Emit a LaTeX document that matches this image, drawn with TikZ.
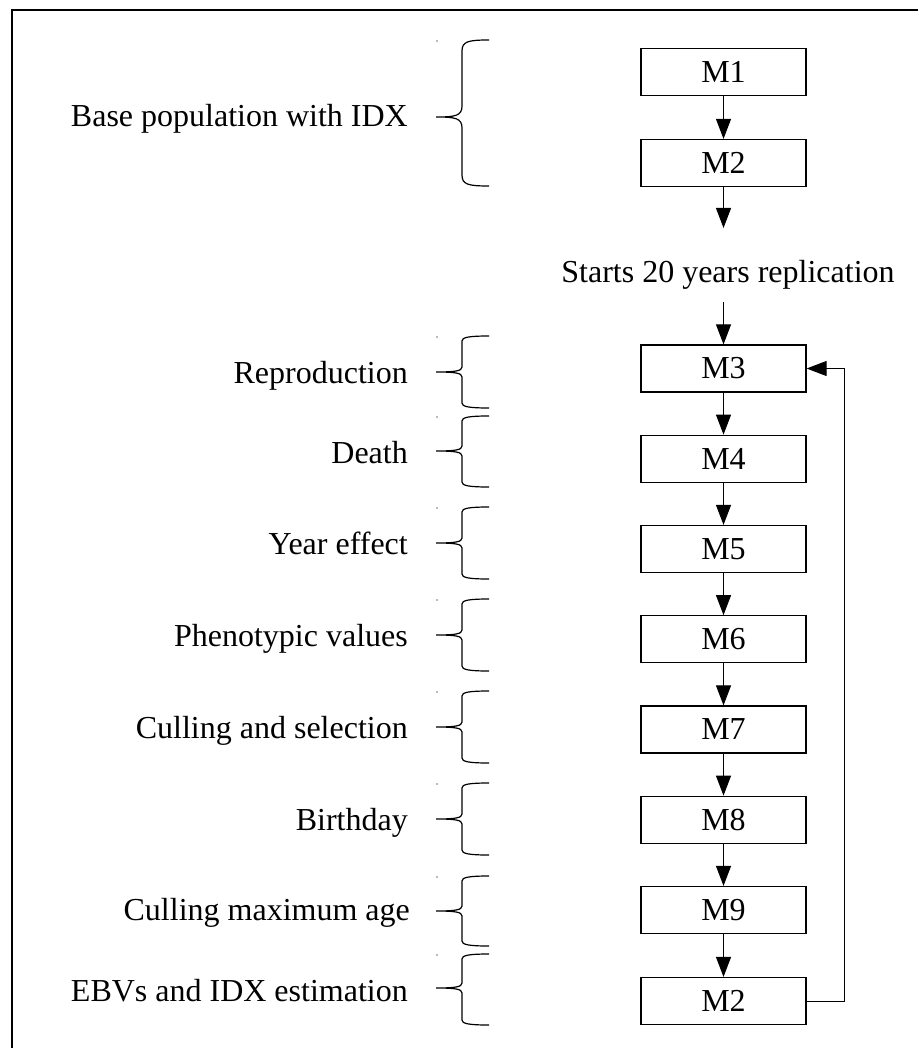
\documentclass[tikz,border=0pt]{standalone}
\usepackage{fontspec}
\setmainfont{Liberation Serif}
\usetikzlibrary{arrows.meta}
\begin{document}
\begin{tikzpicture}[x=1pt,y=-1pt,
  font=\fontsize{32}{38}\selectfont,
  box/.style={draw, line width=1.2pt, minimum width=165pt, minimum height=47pt, inner sep=0pt},
  arr/.style={line width=1pt, -{Triangle[length=20pt,width=15pt]}},
  lbl/.style={anchor=base east, inner sep=0pt},
  bracestyle/.style={line width=1.2pt},
  framestyle/.style={line width=2pt},
  speck/.style={fill=black!55, draw=none}]
\useasboundingbox (0,0) rectangle (918,1048);
% frame (top and left edges)
\draw[framestyle] (12,1048) -- (12,10) -- (918,10);
% boxes
\node[box] (m1) at (723.5,72) {M1};
\node[box] (m2) at (723.5,163) {M2};
\coordinate (s1) at (723.5,228);
\node[anchor=base, inner sep=0pt] (start) at (728,283) {Starts 20 years replication};
\coordinate (s2) at (723.5,302);
\node[box] (m3) at (723.5,368.5) {M3};
\node[box] (m4) at (723.5,458.75) {M4};
\node[box] (m5) at (723.5,549) {M5};
\node[box] (m6) at (723.5,639.25) {M6};
\node[box] (m7) at (723.5,729.5) {M7};
\node[box] (m8) at (723.5,819.75) {M8};
\node[box] (m9) at (723.5,910) {M9};
\node[box] (m2b) at (723.5,1001) {M2};
% connectors
\draw[arr] (m1) -- (m2);
\draw[arr] (m2) -- (s1);
\draw[arr] (s2) -- (m3);
\foreach \a/\b in {m3/m4,m4/m5,m5/m6,m6/m7,m7/m8,m8/m9,m9/m2b}
  \draw[arr] (\a) -- (\b);
\draw[arr] (m2b.east) -- ++(38,0) |- (m3.east);
% braces
\foreach \t/\m/\b/\c in {40/117/186/11, 336/372/408/5, 416/451/487/5, 507/543/579/5, 599/635/671/5, 691/727/763/5, 783/819/855/5, 876/911/946/5, 954/988/1025/5}{
  \draw[bracestyle] (489,\t) .. controls (468,\t) and (462,\t+1.5) .. (462,\t+\c)
     -- (462,\m-\c) .. controls (462,\m-1) and (455,\m) .. (436,\m)
     .. controls (455,\m) and (462,\m+1) .. (462,\m+\c)
     -- (462,\b-\c) .. controls (462,\b-1.5) and (468,\b) .. (489,\b);
  \fill[speck] (437,\t+1) circle (0.8);
}
% labels
\node[lbl] (l1) at (408,127) {Base population with IDX};
\node[lbl] (l2) at (408,383) {Reproduction};
\node[lbl] (l3) at (408,463) {Death};
\node[lbl] (l4) at (408,554.5) {Year effect};
\node[lbl] (l5) at (408,646.5) {Phenotypic values};
\node[lbl] (l6) at (408,738.5) {Culling and selection};
\node[lbl] (l7) at (408,830.5) {Birthday};
\node[lbl] (l8) at (410,920) {Culling maximum age};
\node[lbl] (l9) at (408,1001) {EBVs and IDX estimation};
\end{tikzpicture}
\end{document}
